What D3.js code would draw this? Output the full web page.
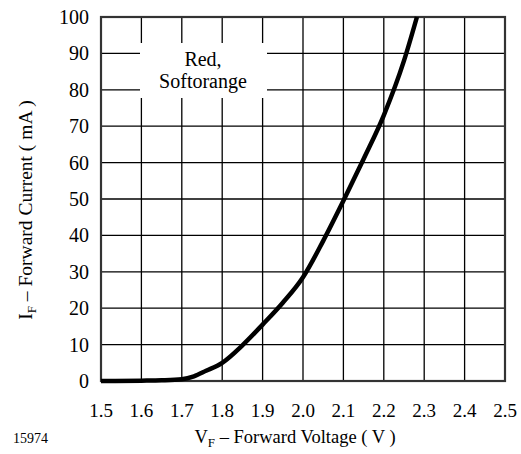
<!DOCTYPE html>
<html><head><meta charset="utf-8">
<script src="https://cdn.jsdelivr.net/npm/d3@7"></script>
</head><body>
<script>
const voltage = [1.5,1.6,1.65,1.7,1.73,1.76,1.8,1.85,1.9,1.95,2.0,2.05,2.1,2.15,2.2,2.25,2.282];
const current = [0,0.1,0.2,0.5,1.3,2.8,5,9.8,15.5,21.5,28.5,38.5,49.5,61,73,88,100];
const xTicks = [1.5,1.6,1.7,1.8,1.9,2.0,2.1,2.2,2.3,2.4,2.5];
const yTicks = [0,10,20,30,40,50,60,70,80,90,100];

const FONT = "'Times New Roman'";
document.body.style.margin = "0";
const W=521,H=454, L=101,R=505,T=17,B=381;
const svg=d3.select("body").append("svg").attr("width",W).attr("height",H).style("display","block");
const x=d3.scaleLinear().domain([1.5,2.5]).range([L,R]);
const y=d3.scaleLinear().domain([0,100]).range([B,T]);

const g=svg.append("g");
g.selectAll("line.v").data(xTicks).join("line").attr("x1",d=>x(d)).attr("x2",d=>x(d)).attr("y1",T).attr("y2",B).attr("stroke","#000").attr("stroke-width",1.3);
g.selectAll("line.h").data(yTicks).join("line").attr("y1",d=>y(d)).attr("y2",d=>y(d)).attr("x1",L).attr("x2",R).attr("stroke","#000").attr("stroke-width",1.3);

// label box
svg.append("rect").attr("x",140).attr("y",43).attr("width",127).attr("height",55).attr("fill","#fff");
svg.selectAll("text.lab").data(["Red,","Softorange"]).join("text").attr("class","lab")
  .attr("x",203).attr("y",(d,i)=>66+i*22).attr("text-anchor","middle").attr("font-size",20).style("font-family",FONT).text(d=>d);

svg.append("rect").attr("x",L).attr("y",T).attr("width",R-L).attr("height",B-T).attr("fill","none").attr("stroke","#333").attr("stroke-width",2.2);

const line=d3.line().x((d,i)=>x(voltage[i])).y(d=>y(d)).curve(d3.curveMonotoneX);
svg.append("path").datum(current).attr("d",line).attr("fill","none").attr("stroke","#000").attr("stroke-width",4.5).attr("stroke-linejoin","round");

svg.selectAll("text.xt").data(xTicks).join("text").attr("class","xt").attr("x",d=>x(d)).attr("y",417).attr("text-anchor","middle").attr("font-size",19).style("font-family",FONT).text(d=>d.toFixed(1));
svg.selectAll("text.yt").data(yTicks).join("text").attr("class","yt").attr("x",89).attr("y",d=>y(d)+7).attr("text-anchor","end").attr("font-size",20).style("font-family",FONT).text(d=>d);

const xl=svg.append("text").attr("x",295).attr("y",443).attr("text-anchor","middle").attr("font-size",18.5).style("font-family",FONT);
xl.append("tspan").text("V");
xl.append("tspan").attr("font-size",13).attr("dy",4).text("F");
xl.append("tspan").attr("dy",-4).text(" – Forward Voltage ( V )");

const yl=svg.append("text").attr("transform","translate(32,210) rotate(-90)").attr("text-anchor","middle").attr("font-size",19.5).style("font-family",FONT);
yl.append("tspan").text("I");
yl.append("tspan").attr("font-size",13).attr("dy",4).text("F");
yl.append("tspan").attr("dy",-4).text(" – Forward Current ( mA )");

svg.append("text").attr("x",13).attr("y",443).attr("font-size",14).style("font-family",FONT).text("15974");
</script>
</body></html>
